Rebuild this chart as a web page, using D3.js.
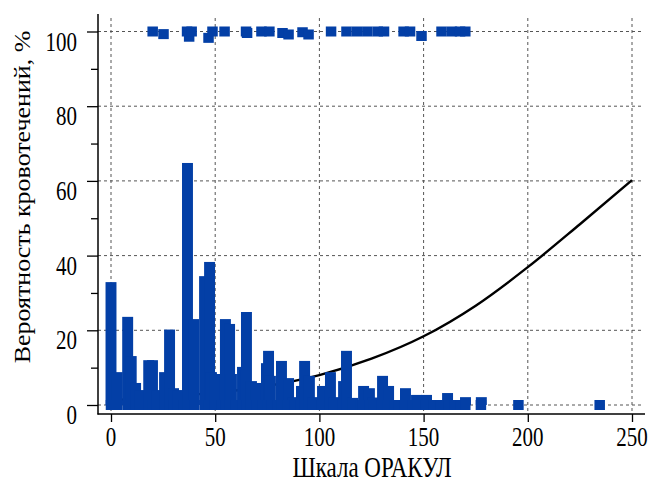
<!DOCTYPE html>
<html>
<head>
<meta charset="utf-8">
<script src="https://cdn.jsdelivr.net/npm/d3@7"></script>
<style>
  body { margin: 0; background: #fff; }
  svg { display: block; }
  text { font-family: "Liberation Serif", "Times New Roman", serif; fill: #000; }
</style>
</head>
<body>
<script>
// observed share of bleeding per score (bars), %
var barX = [0, 3, 8, 9.7, 11.8, 14, 18.1, 19.9, 22, 25.7, 28.1, 30, 32, 36.7, 39.6, 44.9, 47.3, 48.2, 50,
    54.9, 56.9, 57.8, 63.1, 65, 67.4, 69.5, 74.6, 75.6, 76.5, 81.8, 85.2, 87.5, 91.4, 92.9, 95.2, 97,
    101.5, 105.3, 107, 111.6, 113, 116, 121.2, 124, 125.5, 130.3, 133.2, 141.3, 146.6, 151.4, 161.5, 170.1, 177.7],
  barPct = [32.9, 8.8, 23.6, 13.1, 5.9, 4, 12, 12, 4, 8.8, 20.2, 4.5, 4, 64.8, 23, 34.5, 38.3, 8.8, 8.3,
    23, 21.7, 8.3, 10.2, 24.9, 6.4, 5.9, 11.2, 14.5, 7.8, 11.8, 7.2, 2.1, 5.1, 11.8, 7.8, 2.1,
    5.1, 8.8, 2.1, 6.4, 14.5, 1.9, 5.1, 4.5, 2, 7.8, 5.1, 4.5, 2.7, 2.7, 3.2, 2.1, 2.1];

// patients with bleeding (100 %)
var topX = [20, 25.2, 36.5, 37.5, 38.7, 46.8, 48.7, 54.5, 64.8, 65.3, 72.2, 76, 82.3, 85.2, 91.9, 94.8,
    105.6, 113, 118, 123, 128, 131, 140.4, 143.5, 149, 158.6, 163.6, 167.5, 170],
  topPct = [100, 99.3, 100, 98.6, 100, 98.3, 100, 100, 100, 99.6, 100, 100, 99.6, 99.2, 99.8, 99.2,
    100, 100, 100, 100, 100, 100, 100, 100, 98.8, 100, 100, 100, 100];

// patients without bleeding (0 %)
var zeroX = [0, 3, 8, 12, 14, 18, 20, 22, 26, 28, 30, 32, 35, 37, 40, 45, 47, 50, 53, 55, 57, 60, 63,
    65, 67, 70, 73, 75, 77, 80, 82, 85, 88, 91, 93, 95, 97, 101, 105, 107, 111, 113, 116, 120, 121,
    124, 126, 130, 133, 136, 138, 141, 145, 147, 151, 155, 158, 162, 165, 168, 170, 177.5, 195.5, 234.5];

// fitted probability curve
var fitX = [0, 25, 50, 75, 100, 125, 150, 175, 200, 225, 250],
  fitPct = [1.3, 2.1, 3.3, 5.1, 8, 12.4, 18.4, 26.6, 36.9, 48.4, 60.2];

var xTicks = [0, 50, 100, 150, 200, 250],
  yTicks = [0, 20, 40, 60, 80, 100],
  yMinor = [10, 30, 50, 70, 90];

var W = 648, H = 483,
  blue = '#033fa6',
  axisX = 98, axisY = 414, topY = 14, rightX = 645,
  textStretch = 1.3,
  x = d3.scaleLinear().domain([0, 250]).range([111, 632]),
  y = d3.scaleLinear().domain([0, 100]).range([405, 31.5]),
  barW = x(5.25) - x(0),
  sq = 10.5;

var svg = d3.select('body').append('svg').attr('width', W).attr('height', H);

// grid
svg.append('g').selectAll('line').data(yTicks).join('line')
  .attr('x1', axisX).attr('x2', 642)
  .attr('y1', function(d) { return y(d); }).attr('y2', function(d) { return y(d); })
  .attr('stroke', '#555').attr('stroke-width', 1).attr('stroke-dasharray', '3,3');
svg.append('g').selectAll('line').data(xTicks).join('line')
  .attr('x1', function(d) { return x(d); }).attr('x2', function(d) { return x(d); })
  .attr('y1', 18).attr('y2', axisY)
  .attr('stroke', '#555').attr('stroke-width', 1).attr('stroke-dasharray', '3,3');

// fitted line, under the bars
svg.append('path')
  .datum(fitX.map(function(d, i) { return [d, fitPct[i]]; }))
  .attr('fill', 'none').attr('stroke', '#000').attr('stroke-width', 2.4)
  .attr('d', d3.line().x(function(d) { return x(d[0]); }).y(function(d) { return y(d[1]); }).curve(d3.curveMonotoneX));

// bars
svg.append('g').selectAll('rect').data(barX).join('rect')
  .attr('x', function(d) { return x(d) - barW / 2; })
  .attr('width', barW)
  .attr('y', function(d, i) { return y(barPct[i]); })
  .attr('height', function(d, i) { return y(0) - y(barPct[i]); })
  .attr('fill', blue);

// markers
svg.append('g').selectAll('rect').data(zeroX).join('rect')
  .attr('x', function(d) { return x(d) - sq / 2; })
  .attr('y', y(0) - 5).attr('width', sq).attr('height', 10)
  .attr('fill', blue);
svg.append('g').selectAll('rect').data(topX).join('rect')
  .attr('x', function(d) { return x(d) - sq / 2; })
  .attr('y', function(d, i) { return y(topPct[i]) - 5; }).attr('width', sq).attr('height', 10)
  .attr('fill', blue);

// axes
svg.append('g').attr('transform', 'translate(' + axisX + ',0)')
  .call(d3.axisLeft(y).tickValues(yTicks).tickSize(11).tickFormat(''));
svg.append('g').attr('transform', 'translate(' + axisX + ',0)')
  .call(d3.axisLeft(y).tickValues(yMinor).tickSize(7).tickFormat(''));
svg.append('g').attr('transform', 'translate(0,' + axisY + ')')
  .call(d3.axisBottom(x).tickValues(xTicks).tickSize(8).tickFormat(''));
svg.selectAll('.domain').remove();
svg.selectAll('.tick line').attr('stroke', '#000').attr('stroke-width', 1.3);

svg.append('line').attr('x1', axisX).attr('x2', axisX).attr('y1', topY).attr('y2', axisY + 0.5)
  .attr('stroke', '#000').attr('stroke-width', 1.5);
svg.append('line').attr('x1', axisX - 0.5).attr('x2', rightX).attr('y1', axisY).attr('y2', axisY)
  .attr('stroke', '#000').attr('stroke-width', 1.5);

// tick labels
yTicks.forEach(function(d) {
  svg.append('text').attr('transform', 'translate(77,' + (y(d) + 19) + ') scale(1,' + textStretch + ')')
    .attr('text-anchor', 'end').attr('font-size', 21).text(d);
});
xTicks.forEach(function(d) {
  svg.append('text').attr('transform', 'translate(' + x(d) + ',446) scale(1,' + textStretch + ')')
    .attr('text-anchor', 'middle').attr('font-size', 21).text(d);
});

// titles
svg.append('text').attr('transform', 'translate(372,477) scale(1,' + textStretch + ')')
  .attr('text-anchor', 'middle').attr('font-size', 23).text('Шкала ОРАКУЛ');
var yTitle = svg.append('text').attr('text-anchor', 'middle').attr('font-size', 23)
  .text('Вероятность кровотечений, %');
var len = yTitle.node().getComputedTextLength();
yTitle.attr('transform', 'translate(30,197) rotate(-90) scale(' + (333 / len) + ',1)');
</script>
</body>
</html>
